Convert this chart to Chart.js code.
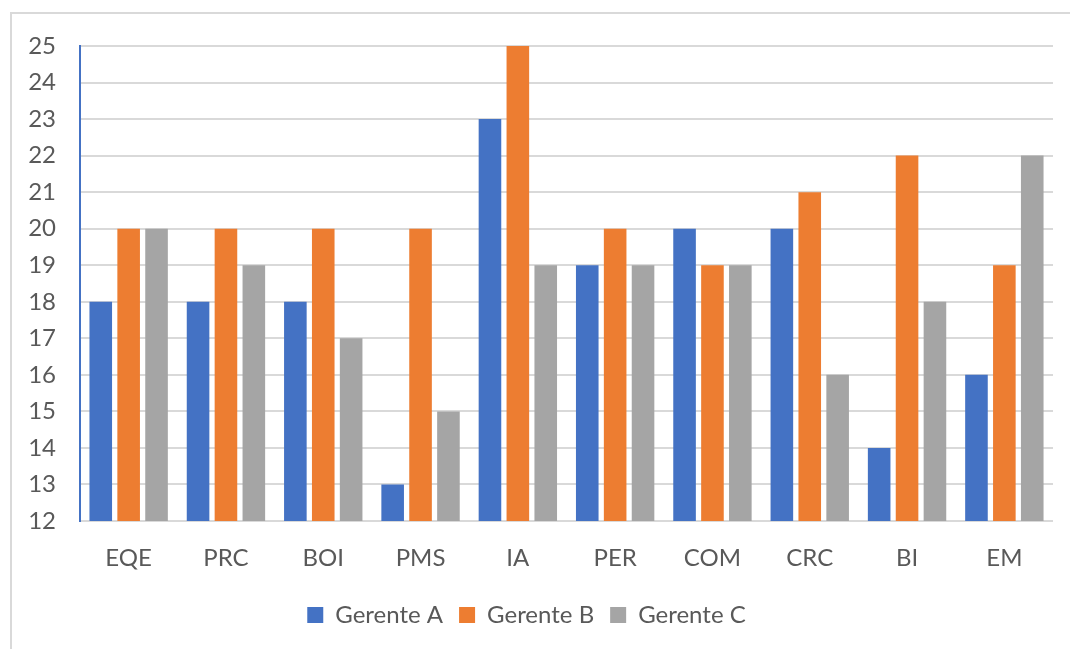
<!DOCTYPE html>
<html>
<head>
<meta charset="utf-8">
<script src="https://cdn.jsdelivr.net/npm/chart.js@4.4.1/dist/chart.umd.min.js"></script>
<style>
  html, body { margin: 0; padding: 0; background: #fff; overflow: hidden; }
  #frame { position: absolute; left: 10px; top: 12px; width: 1080px; height: 660px; border: 2px solid #d9d9d9; box-sizing: border-box; }
  #chart1 { position: absolute; left: 0; top: 0; }
</style>
</head>
<body>
<div id="frame"></div>
<canvas id="chart1" width="1070" height="649"></canvas>
<script>
const labels = ["EQE", "PRC", "BOI", "PMS", "IA", "PER", "COM", "CRC", "BI", "EM"];
const gerenteA = [18, 18, 18, 13, 23, 19, 20, 20, 14, 16];
const gerenteB = [20, 20, 20, 20, 25, 20, 19, 21, 22, 19];
const gerenteC = [20, 19, 17, 15, 19, 19, 19, 16, 18, 22];

const txt = '#595959';
const font = { family: 'Lato, "Open Sans", sans-serif', size: 24 };

const data = {
    labels: labels,
    datasets: [
        { label: 'Gerente A', data: gerenteA, backgroundColor: '#4472C4' },
        { label: 'Gerente B', data: gerenteB, backgroundColor: '#ED7D31' },
        { label: 'Gerente C', data: gerenteC, backgroundColor: '#A5A5A5' }
    ]
};

const config = {
    type: 'bar',
    data: data,
    options: {
        responsive: false,
        animation: false,
        categoryPercentage: 0.86,
        barPercentage: 0.81,
        layout: { padding: { top: 46, right: 17, bottom: 12, left: 0 } },
        plugins: {
            legend: {
                position: 'bottom',
                labels: { color: txt, font: font, boxWidth: 16, boxHeight: 16, padding: 16 }
            },
            tooltip: { enabled: false }
        },
        scales: {
            x: {
                afterFit: function (scale) { scale.height = 66; },
                grid: { display: false, drawTicks: false },
                border: { display: false },
                ticks: { color: txt, font: font, padding: 23 }
            },
            y: {
                min: 12,
                max: 25,
                afterFit: function (scale) { scale.width = 80; },
                grid: { color: '#d9d9d9', lineWidth: 2, drawTicks: false },
                border: { color: '#4472C4', width: 2 },
                ticks: { stepSize: 1, color: txt, font: font, padding: 24 }
            }
        }
    }
};

var chart = new Chart(document.getElementById('chart1'), config);
</script>
</body>
</html>
